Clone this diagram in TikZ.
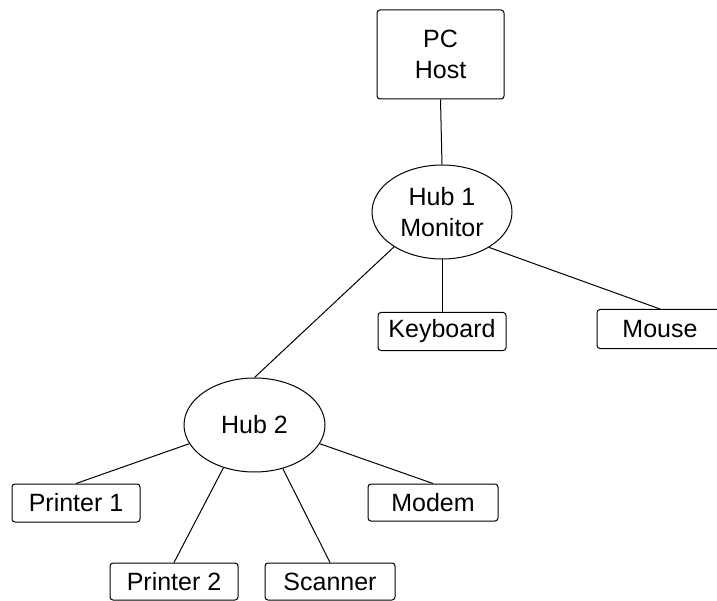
\documentclass[tikz,border=0pt]{standalone}
\usepackage{fontspec}
\setmainfont{Liberation Sans}
\usetikzlibrary{shapes.geometric}
\begin{document}
\begin{tikzpicture}[x=1pt,y=-1pt,
  every node/.style={font=\fontsize{25}{31}\selectfont, inner sep=0pt, align=center},
  device/.style={draw, line width=1pt, rounded corners=3pt, minimum width=128pt, minimum height=38pt},
  hub/.style={draw, line width=1pt, ellipse, minimum width=140pt, minimum height=94pt},
  link/.style={line width=1pt}]
  \useasboundingbox (0,0) rectangle (717,601);
  \clip (0,0) rectangle (717,601);
  \fill[white] (0,0) rectangle (717,601);

  % nodes
  \node[device, minimum width=127pt, minimum height=89pt] (pc) at (440.5,54.5) {PC\\Host};
  \node[hub] (h1) at (442,212) {Hub 1\\Monitor};
  \node[device] (kb) at (442,331.5) {Keyboard};
  \node[device, minimum width=126pt, minimum height=39pt] (mouse) at (660,329) {Mouse};
  \node[hub, minimum width=141pt] (h2) at (254.5,425) {Hub 2};
  \node[device] (p1) at (76,503) {Printer 1};
  \node[device, minimum width=130pt, minimum height=37pt] (modem) at (433,502.5) {Modem};
  \node[device, minimum height=37pt] (p2) at (174,581.5) {Printer 2};
  \node[device, minimum width=130pt, minimum height=37pt] (scan) at (330,581.5) {Scanner};

  % connectors
  \draw[link] (pc.south) -- (h1.north);
  \draw[link] (h1.south) -- (kb.north);
  \draw[link] (h1.216) -- (h2.north);
  \draw[link] (h1.-37) -- (mouse.north);
  \draw[link] (h2.196) -- (p1.north);
  \draw[link] (h2.-16) -- (modem.north);
  \draw[link] (h2.234) -- (p2.north);
  \draw[link] (h2.-57) -- (scan.north);
\end{tikzpicture}
\end{document}
